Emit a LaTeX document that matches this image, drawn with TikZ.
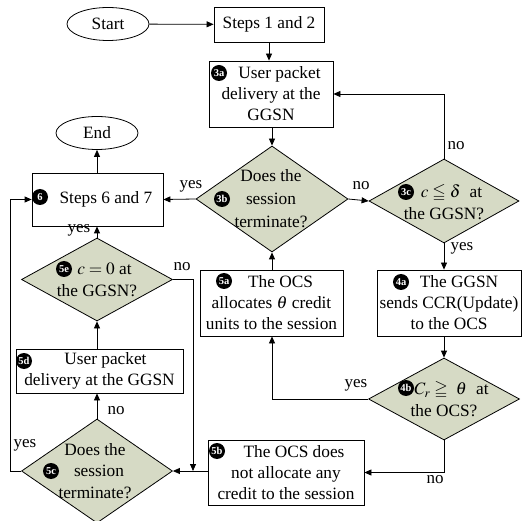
\documentclass[tikz,border=0pt]{standalone}
\usepackage{amssymb}
\usepackage{mathptmx}
\usepackage{fontspec}
\setmainfont{Liberation Serif}
\usetikzlibrary{shapes.geometric,arrows.meta}
\definecolor{dfill}{RGB}{214,218,197}
\tikzset{
 box/.style={draw, line width=0.8pt, inner sep=0pt, align=center, font=\fontsize{17.3}{21}\selectfont},
 dia/.style={diamond, draw, fill=dfill, line width=0.8pt, inner sep=0pt},
 ell/.style={ellipse, draw, line width=0.8pt, inner sep=0pt, font=\fontsize{17.3}{21}\selectfont},
 txt/.style={align=center, inner sep=0pt, font=\fontsize{17.3}{21.5}\selectfont},
 bdg/.style={circle, fill=black, text=white, inner sep=0pt, minimum size=16pt, font=\bfseries\fontsize{10.5}{10.5}\selectfont},
 lbl/.style={inner sep=0pt, font=\fontsize{17}{17}\selectfont},
 arr/.style={-{Triangle[length=7pt,width=6pt]}, line width=0.8pt},
}
\begin{document}
\begin{tikzpicture}[x=1pt,y=-1pt]
\useasboundingbox (0,0) rectangle (522,521);
% nodes
\node[ell, minimum width=82pt, minimum height=33pt] (start) at (108,24) {Start};
\node[box, minimum width=110pt, minimum height=35pt] (s12) at (269,24.5) {Steps 1 and 2};
\node[box, minimum width=124pt, minimum height=66pt] (s3a) at (271,94) {\hspace{17pt}User packet\\delivery at the\\GGSN};
\node[dia, minimum width=152pt, minimum height=106pt] (d3b) at (272,199) {};
\node[txt, font=\fontsize{17.3}{23}\selectfont] (t3b) at (271,199) {Does the\\session\\terminate?};
\node[box, minimum width=131pt, minimum height=53pt] (s6) at (97.5,199.5) {\hspace{17pt}Steps 6 and 7};
\node[ell, minimum width=82pt, minimum height=33pt] (endn) at (97,133) {End};
\node[dia, minimum width=150pt, minimum height=84pt] (d3c) at (444,201) {};
\node[txt] (t3c) at (444,202) {\hspace{15pt}$c \leqq \delta$\; at\\the GGSN?};
\node[box, minimum width=144pt, minimum height=66pt] (s4a) at (449,303) {\hspace{20pt}The GGSN\\sends CCR(Update)\\to the OCS};
\node[dia, minimum width=151pt, minimum height=82pt] (d4b) at (444,399) {};
\node[txt] (t4b) at (444,399) {\hspace{15pt}$C_r \geqq\ \theta$\; at\\the OCS?};
\node[box, minimum width=143pt, minimum height=66pt] (s5a) at (271.5,303) {\hspace{18pt}The OCS\\allocates $\theta$ credit\\units to the session};
\node[box, minimum width=156pt, minimum height=65pt] (s5b) at (286,472.5) {\hspace{16pt}The OCS does\\not allocate any\\credit to the session};
\node[dia, minimum width=151pt, minimum height=83pt] (d5e) at (97,279.5) {};
\node[txt] (t5e) at (97,280) {\hspace{15pt}$c = 0$ at\\the GGSN?};
\node[box, minimum width=167pt, minimum height=44pt] (s5d) at (99.5,371) {\hspace{12pt}User packet\\delivery at the GGSN};
\node[dia, minimum width=151pt, minimum height=104pt] (d5c) at (97,471) {};
\node[txt] (t5c) at (95,471) {Does the\\\hspace{8pt}session\\terminate?};
% badges
\node[bdg] (b3a) at (219,73) {3a};
\node[bdg] (b3b) at (222,199) {3b};
\node[bdg] (b3c) at (406,192) {3c};
\node[bdg] (b4a) at (401,282) {4a};
\node[bdg] (b4b) at (406,388) {4b};
\node[bdg] (b5a) at (224,281) {5a};
\node[bdg] (b5b) at (217,451) {5b};
\node[bdg] (b5e) at (64,269) {5e};
\node[bdg] (b5d) at (24,361) {5d};
\node[bdg] (b5c) at (51,471) {5c};
\node[bdg] (b6) at (40,197) {6};
% connectors
\draw[arr] (start) -- (s12);
\draw[arr] (s12.south) -- (s12.south |- s3a.north);
\draw[arr] (s3a.south -| d3b.north) -- (d3b.north);
\draw[arr] (d3b.west) -- (s6.east);
\draw[arr] (d3b.east) -- (d3c.west);
\draw[arr] (d3c.north) |- (s3a.east);
\draw[arr] (d3c.south) -- (d3c.south |- s4a.north);
\draw[arr] (s4a.south -| d4b.north) -- (d4b.north);
\draw[arr] (d4b.west) -| (s5a.south -| d3b.south);
\draw[arr] (s5a.north -| d3b.south) -- (d3b.south);
\draw[arr] (d4b.south) |- (s5b.east);
\draw[arr] (s5b.west |- d5c.east) -- (d5c.east);
\coordinate (j5) at (193,471);
\draw[arr] (d5e.east) -| (j5);
\draw[arr] (d5c.north) -- (d5c.north |- s5d.south);
\draw[arr] (s5d.north -| d5e.south) -- (d5e.south);
\draw[arr] (d5e.north) -- (d5e.north |- s6.south);
\draw[arr] (s6.north -| endn.south) -- (endn.south);
\coordinate (lp) at (10,471);
\draw[arr] (d5c.west) -- (lp) |- (s6.west);
% labels
\node[lbl] (l1) at (191,186) {yes};
\node[lbl] (l2) at (361,186) {no};
\node[lbl] (l3) at (456,146) {no};
\node[lbl] (l4) at (462,248) {yes};
\node[lbl] (l5) at (356,385) {yes};
\node[lbl] (l6) at (435,480) {no};
\node[lbl] (l7) at (182,267) {no};
\node[lbl] (l8) at (79,230) {yes};
\node[lbl] (l9) at (116,411) {no};
\node[lbl] (l10) at (25,445) {yes};
\end{tikzpicture}
\end{document}
